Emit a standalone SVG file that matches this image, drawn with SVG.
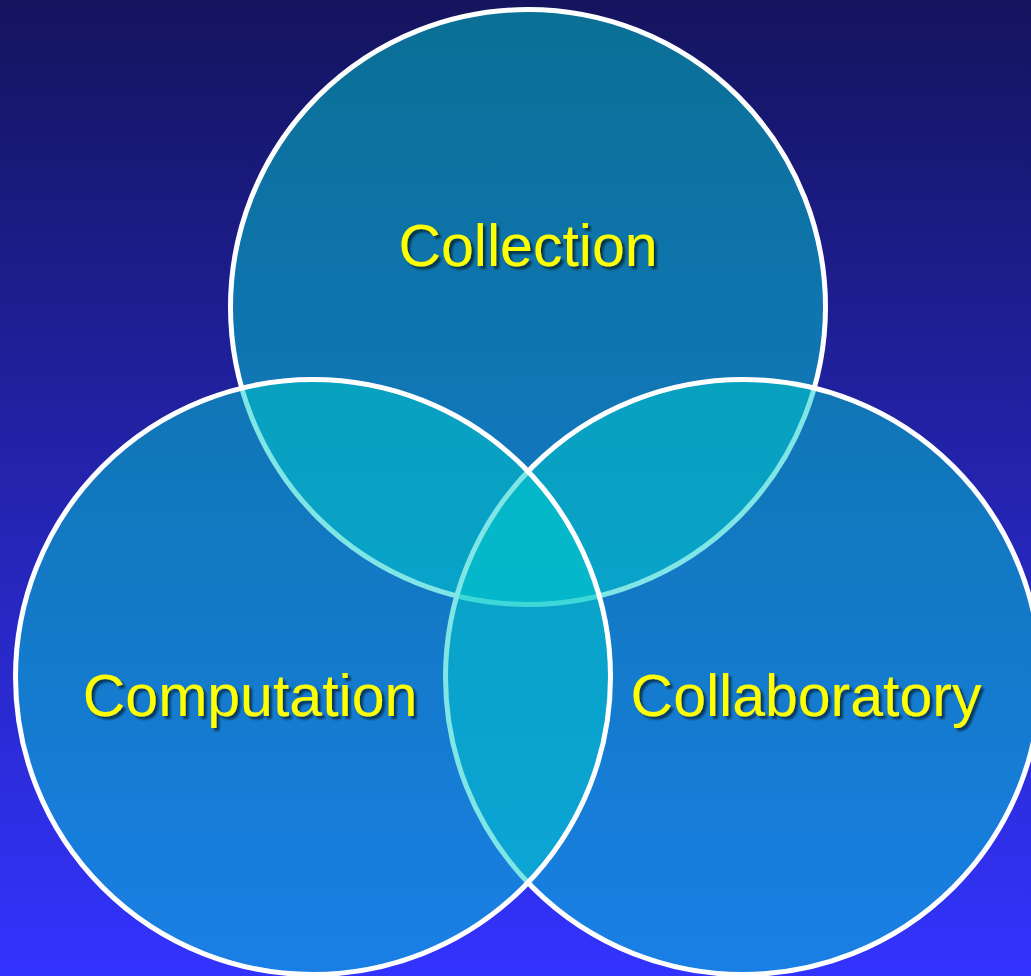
<svg xmlns="http://www.w3.org/2000/svg" width="1031" height="976" viewBox="0 0 1031 976">
  <defs>
    <linearGradient id="bg" x1="0" y1="0" x2="0" y2="1">
      <stop offset="0" stop-color="#14145e"/>
      <stop offset="1" stop-color="#3333ff"/>
    </linearGradient>
    <filter id="shadow" x="-10%" y="-30%" width="120%" height="160%">
      <feDropShadow dx="3" dy="3" stdDeviation="1.2" flood-color="#000000" flood-opacity="0.55"/>
    </filter>
  </defs>
  <style>
    .ring { fill: #00cccc; fill-opacity: 0.5; stroke: #ffffff; stroke-width: 5; }
    .label { font-family: "Liberation Sans", Arial, sans-serif; font-size: 59px; fill: #ffff00; text-anchor: middle; filter: url(#shadow); }
  </style>
  <rect x="0" y="0" width="1031" height="976" fill="url(#bg)"/>
  <g id="collection">
    <circle class="ring" cx="528" cy="307" r="297.5"/>
    <text class="label" x="528" y="266">Collection</text>
  </g>
  <g id="collaboratory">
    <circle class="ring" cx="743" cy="677" r="297.5"/>
    <text class="label" x="806" y="716">Collaboratory</text>
  </g>
  <g id="computation">
    <circle class="ring" cx="313" cy="677" r="297.5"/>
    <text class="label" x="250" y="716">Computation</text>
  </g>
</svg>
